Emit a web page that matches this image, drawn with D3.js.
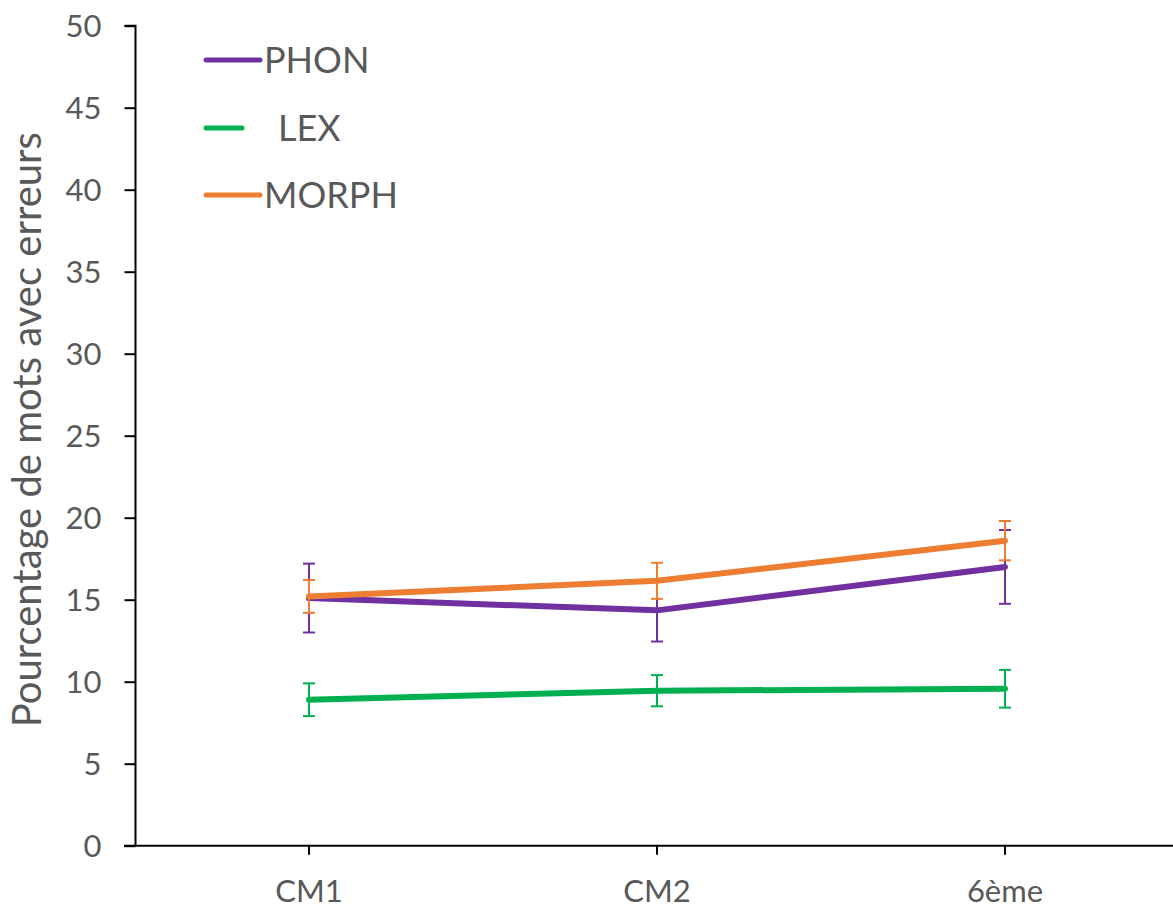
<!DOCTYPE html>
<html><head><meta charset="utf-8">
<script src="https://cdn.jsdelivr.net/npm/d3@7"></script>
<style>body{margin:0;background:#fff}svg{display:block}text{font-family:Lato,"Open Sans",sans-serif;fill:#595959}</style>
</head><body><svg id="c" width="1173" height="908"></svg>
<script>
const categories = ["CM1", "CM2", "6ème"];
const seriesNames = ["PHON", "LEX", "MORPH"];
const seriesColors = ["#7030A0", "#00B050", "#ED7D31"];
const phonValues = [15.1, 14.35, 17.0];
const phonErrors = [2.1, 1.9, 2.25];
const lexValues = [8.9, 9.45, 9.57];
const lexErrors = [1.0, 0.95, 1.15];
const morphValues = [15.2, 16.15, 18.6];
const morphErrors = [1.0, 1.1, 1.2];
const yTicks = [0, 5, 10, 15, 20, 25, 30, 35, 40, 45, 50];
const yLabel = "Pourcentage de mots avec erreurs";

const series = [
  {name: seriesNames[0], color: seriesColors[0], values: phonValues, errors: phonErrors},
  {name: seriesNames[1], color: seriesColors[1], values: lexValues, errors: lexErrors},
  {name: seriesNames[2], color: seriesColors[2], values: morphValues, errors: morphErrors}
];

const svg = d3.select("#c");
const x = d3.scaleBand().domain(categories).range([135, 1179]);
const y = d3.scaleLinear().domain([0, 50]).range([845.7, 25.7]);
const cx = c => x(c) + x.bandwidth() / 2;

// Y axis
const ya = svg.append("g").attr("transform", "translate(135.5,0)")
  .call(d3.axisLeft(y).tickValues(yTicks).tickSize(11).tickPadding(23));
ya.select(".domain").attr("stroke", "#000").attr("stroke-width", 2).attr("d", `M-11,${y(50)}H0V${y(0)}`);
ya.selectAll(".tick line").attr("stroke", "#000").attr("stroke-width", 2);
ya.selectAll(".tick text").style("font-size", "31px").attr("fill", "#595959").attr("dy", "0.36em");

// X axis
const xa = svg.append("g").attr("transform", `translate(0,${y(0)})`)
  .call(d3.axisBottom(x).tickSize(9).tickPadding(25));
xa.select(".domain").attr("stroke", "#000").attr("stroke-width", 2).attr("d", "M124,0H1179");
xa.selectAll(".tick line").attr("stroke", "#000").attr("stroke-width", 2);
xa.selectAll(".tick text").style("font-size", "31px").attr("fill", "#595959");

// Y label
svg.append("text").attr("transform", `translate(41,${(y(0)+y(50))/2 - 6}) rotate(-90)`)
  .attr("text-anchor", "middle").style("font-size", "40px").text(yLabel);

// Series
const line = d3.line().x((d, i) => cx(categories[i])).y(d => y(d));
series.forEach(s => {
  const g = svg.append("g");
  g.append("path").datum(s.values).attr("d", line).attr("fill", "none")
    .attr("stroke", s.color).attr("stroke-width", 6).attr("stroke-linecap", "round").attr("stroke-linejoin", "round");
  s.values.forEach((v, i) => {
    const px = cx(categories[i]);
    const e = g.append("g").attr("stroke", s.color).attr("stroke-width", 2);
    e.append("line").attr("x1", px).attr("x2", px).attr("y1", y(v + s.errors[i])).attr("y2", y(v - s.errors[i]));
    e.append("line").attr("x1", px - 6).attr("x2", px + 6).attr("y1", y(v + s.errors[i])).attr("y2", y(v + s.errors[i]));
    e.append("line").attr("x1", px - 6).attr("x2", px + 6).attr("y1", y(v - s.errors[i])).attr("y2", y(v - s.errors[i]));
  });
});

// Legend
const legY = [60, 128, 195];
const legLineEnd = [260, 242, 260];
const legTextX = [264, 278, 264];
series.forEach((s, i) => {
  svg.append("line").attr("x1", 206).attr("x2", legLineEnd[i]).attr("y1", legY[i]).attr("y2", legY[i])
    .attr("stroke", s.color).attr("stroke-width", 5).attr("stroke-linecap", "round");
  svg.append("text").attr("x", legTextX[i]).attr("y", legY[i]).attr("dy", "0.36em")
    .style("font-size", "36px").text(s.name);
});
</script></body></html>
